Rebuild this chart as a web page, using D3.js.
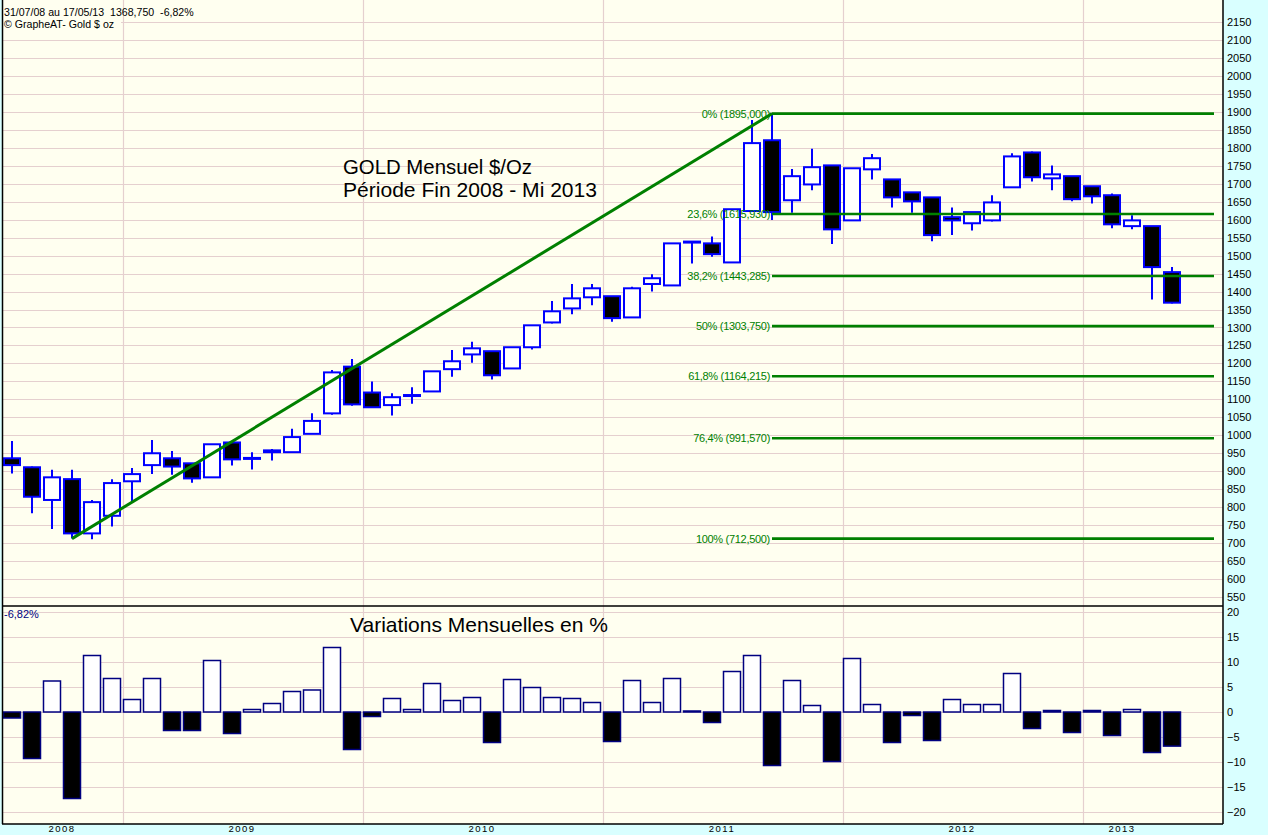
<!DOCTYPE html>
<html>
<head>
<meta charset="utf-8">
<script src="https://cdn.jsdelivr.net/npm/d3@7"></script>
<style>
html,body{margin:0;padding:0;background:#D9FFFF;}
svg{display:block;}
text{font-family:"Liberation Sans",Arial,sans-serif;}
</style>
</head>
<body>
<svg id="chart" width="1268" height="835"></svg>
<script>
// ---------- DATA ----------
const months = ["2008-07","2008-08","2008-09","2008-10","2008-11","2008-12",
"2009-01","2009-02","2009-03","2009-04","2009-05","2009-06","2009-07","2009-08","2009-09","2009-10","2009-11","2009-12",
"2010-01","2010-02","2010-03","2010-04","2010-05","2010-06","2010-07","2010-08","2010-09","2010-10","2010-11","2010-12",
"2011-01","2011-02","2011-03","2011-04","2011-05","2011-06","2011-07","2011-08","2011-09","2011-10","2011-11","2011-12",
"2012-01","2012-02","2012-03","2012-04","2012-05","2012-06","2012-07","2012-08","2012-09","2012-10","2012-11","2012-12",
"2013-01","2013-02","2013-03","2013-04","2013-05"];

const openP  = [936,911,820,878,727,776, 872,917,936,922,883,980,936,953,953,1004,1061,1191,
 1119,1084,1111,1122,1184,1225,1234,1186,1245,1314,1353,1384, 1387,1328,1421,1417,1537,1534,1481,1624,1821,1654,1698,1751,
 1598,1740,1712,1676,1662,1607,1590,1598,1690,1787,1715,1721, 1693,1668,1582,1582,1454];
const highP  = [984,913,904,904,820,878, 909,987,956,922,975,980,953,962,1018,1061,1182,1212,
 1150,1117,1134,1178,1237,1260,1234,1245,1306,1374,1421,1421, 1387,1413,1448,1534,1539,1553,1629,1877,1896,1741,1797,1751,
 1743,1783,1712,1676,1662,1634,1621,1668,1785,1790,1751,1721, 1693,1673,1612,1582,1468];
const lowP   = [894,783,739,713,711,746, 815,892,890,868,883,916,905,930,953,1004,1057,1082,
 1078,1055,1088,1122,1163,1202,1155,1186,1239,1311,1337,1362, 1316,1328,1400,1417,1478,1497,1481,1624,1599,1619,1682,1532,
 1598,1712,1634,1619,1540,1557,1570,1595,1690,1706,1682,1651, 1645,1576,1573,1378,1367];
const closeP = [917,829,883,727,814,867, 892,950,913,880,975,933,937,958,995,1040,1175,1086,
 1078,1106,1112,1178,1206,1242,1167,1245,1306,1345,1381,1409, 1326,1409,1437,1534,1539,1504,1629,1813,1621,1721,1746,1573,
 1743,1771,1662,1651,1557,1598,1621,1648,1776,1718,1726,1657, 1665,1587,1598,1468,1369];

const variations = [-1.2,-9.3,6.2,-17.3,11.3,6.7, 2.5,6.7,-3.7,-3.7,10.3,-4.3,0.5,1.7,4.1,4.4,12.9,-7.5,
 -0.9,2.7,0.5,5.7,2.3,2.9,-6.1,6.5,4.9,2.9,2.7,1.9, -5.9,6.3,1.9,6.7,0.2,-2.1,8.1,11.3,-10.7,6.3,1.3,-9.9,
 10.7,1.5,-6.1,-0.7,-5.7,2.5,1.5,1.5,7.7,-3.3,0.3,-4.1, 0.3,-4.7,0.5,-8.1,-6.82];

const priceTicks = [550,600,650,700,750,800,850,900,950,1000,1050,1100,1150,1200,1250,1300,1350,1400,1450,1500,
 1550,1600,1650,1700,1750,1800,1850,1900,1950,2000,2050,2100,2150];
const varTicks = [-20,-15,-10,-5,0,5,10,15,20];

const years = ["2008","2009","2010","2011","2012","2013"];
const yearLabelMonth = ["2008-09","2009-06","2010-06","2011-06","2012-06","2013-02"]; // label sits at the end of this month

const fibLevels = [1895.000,1615.930,1443.285,1303.750,1164.215,991.570,712.500];
const fibLabels = ["0% (1895,000)","23,6% (1615,930)","38,2% (1443,285)","50% (1303,750)","61,8% (1164,215)","76,4% (991,570)","100% (712,500)"];
const trendFrom = {month:"2008-10", value:712.5};
const trendTo   = {month:"2011-09", value:1895.0};
const fibStartMonth = "2011-09";

// ---------- LAYOUT ----------
const svg = d3.select("#chart");
const L = 2, R = 1223, T = 0, MID = 606, B = 824;
const BG = "#D9FFFF", PLOT = "#FFFFF0", GRID = "#E5D0CF";
const GREEN = "#008000";

const x = d3.scaleBand().domain(months).range([L, L + 20*months.length]).paddingInner(0);
const cx = m => x(m) + x.bandwidth()/2;
const y = d3.scaleLinear().domain([550,2150]).range([597,22]);
const yv = d3.scaleLinear().domain([-20,20]).range([812,612]);

svg.append("rect").attr("x",L).attr("y",T).attr("width",R-L).attr("height",B-T).attr("fill",PLOT);

// horizontal grids
svg.append("g").selectAll("line").data(priceTicks).join("line")
  .attr("x1",L).attr("x2",R).attr("y1",d=>Math.round(y(d))+0.5).attr("y2",d=>Math.round(y(d))+0.5)
  .attr("stroke",GRID).attr("stroke-width",1.2);
svg.append("g").selectAll("line").data(varTicks).join("line")
  .attr("x1",L).attr("x2",R).attr("y1",d=>Math.round(yv(d))+0.5).attr("y2",d=>Math.round(yv(d))+0.5)
  .attr("stroke",GRID).attr("stroke-width",1.2);

// vertical year separators (between Dec and Jan)
const yearStarts = months.filter((m,i)=> i>0 && m.endsWith("-01"));
svg.append("g").selectAll("line").data(yearStarts).join("line")
  .attr("x1",d=>Math.round(x(d))+1.5).attr("x2",d=>Math.round(x(d))+1.5)
  .attr("y1",T).attr("y2",B).attr("stroke",GRID).attr("stroke-width",1.2);

// header text
svg.append("rect").attr("x",L+1).attr("y",0).attr("width",118).attr("height",30).attr("fill",PLOT);
svg.append("text").attr("x",4).attr("y",16).attr("font-size",10.6).attr("fill","#000")
  .style("white-space","pre").text("31/07/08 au 17/05/13  1368,750  -6,82%");
svg.append("text").attr("x",4).attr("y",28).attr("font-size",10.6).attr("fill","#000")
  .text("© GrapheAT- Gold $ oz");

// Titles
svg.append("text").attr("x",343).attr("y",174).attr("font-size",20.5).attr("textLength",189).attr("lengthAdjust","spacingAndGlyphs").attr("fill","#000").text("GOLD Mensuel $/Oz");
svg.append("text").attr("x",343).attr("y",196.5).attr("font-size",20.5).attr("textLength",254).attr("lengthAdjust","spacingAndGlyphs").attr("fill","#000").text("Période Fin 2008 - Mi 2013");
svg.append("text").attr("x",350).attr("y",632).attr("font-size",21).attr("textLength",258).attr("lengthAdjust","spacingAndGlyphs").attr("fill","#000").text("Variations Mensuelles en %");
svg.append("text").attr("x",4).attr("y",618).attr("font-size",11).attr("fill","#000080").text("-6,82%");

// ---------- CANDLES ----------
const candles = months.map((m,i)=>({m, o:openP[i], h:highP[i], l:lowP[i], c:closeP[i]}));
const gC = svg.append("g");
gC.selectAll("line.wick").data(candles).join("line").attr("class","wick")
  .attr("x1",d=>cx(d.m)).attr("x2",d=>cx(d.m))
  .attr("y1",d=>y(d.h)).attr("y2",d=>y(d.l))
  .attr("stroke","#0000FF").attr("stroke-width",2);
gC.selectAll("rect.body").data(candles).join("rect").attr("class","body")
  .attr("x",d=>x(d.m)+2).attr("width",x.bandwidth()-4)
  .attr("y",d=>y(Math.max(d.o,d.c)))
  .attr("height",d=>Math.max(1, Math.abs(y(d.o)-y(d.c))))
  .attr("fill",d=> d.c>=d.o ? "#FFFFFF" : "#000000")
  .attr("stroke","#0000FF").attr("stroke-width",2);

// ---------- FIBONACCI ----------
svg.append("line")
  .attr("x1",cx(trendFrom.month)).attr("y1",y(trendFrom.value))
  .attr("x2",cx(trendTo.month)).attr("y2",y(trendTo.value))
  .attr("stroke",GREEN).attr("stroke-width",3);
const gF = svg.append("g");
gF.selectAll("line").data(fibLevels).join("line")
  .attr("x1",cx(fibStartMonth)).attr("x2",1214)
  .attr("y1",d=>y(d)).attr("y2",d=>y(d))
  .attr("stroke",GREEN).attr("stroke-width",2.6);
gF.selectAll("text").data(fibLevels).join("text")
  .attr("x",cx(fibStartMonth)-2).attr("y",d=>y(d)+4)
  .attr("text-anchor","end").attr("font-size",11).attr("letter-spacing",-0.3)
  .attr("fill",GREEN).text((d,i)=>fibLabels[i]);

// ---------- VARIATIONS ----------
svg.append("g").selectAll("rect").data(months.map((m,i)=>({m,v:variations[i]}))).join("rect")
  .attr("x",d=>x(d.m)+1.5).attr("width",x.bandwidth()-3)
  .attr("y",d=>yv(Math.max(0,d.v))).attr("height",d=>Math.max(1,Math.abs(yv(d.v)-yv(0))))
  .attr("fill",d=>d.v>=0?"#FFFFFF":"#000000")
  .attr("stroke","#000080").attr("stroke-width",1.5);

// ---------- FRAME ----------
svg.append("rect").attr("x",R+0.5).attr("y",0).attr("width",1268-R).attr("height",835).attr("fill",BG);
svg.append("rect").attr("x",0).attr("y",B).attr("width",1268).attr("height",835-B).attr("fill",BG);
svg.append("rect").attr("x",0).attr("y",0).attr("width",L).attr("height",835).attr("fill",BG);
const frame = svg.append("g").attr("stroke","#000").attr("stroke-width",1.5);
frame.append("line").attr("x1",L+0.5).attr("x2",L+0.5).attr("y1",0).attr("y2",B);
frame.append("line").attr("x1",R).attr("x2",R).attr("y1",0).attr("y2",B);
frame.append("line").attr("x1",L).attr("x2",R).attr("y1",B).attr("y2",B);
frame.append("line").attr("x1",L).attr("x2",R).attr("y1",MID).attr("y2",MID);

// ---------- AXES ----------
const axUp = d3.axisRight(y).tickValues(priceTicks).tickSize(0).tickPadding(4).tickFormat(d3.format("d"));
const gAU = svg.append("g").attr("transform",`translate(${R},0)`).call(axUp);
gAU.select(".domain").remove();
gAU.selectAll("text").attr("font-size",11).attr("font-family","Liberation Sans, Arial, sans-serif").attr("fill","#000");
const axLo = d3.axisRight(yv).tickValues(varTicks).tickSize(0).tickPadding(4).tickFormat(d3.format("d"));
const gAL = svg.append("g").attr("transform",`translate(${R},0)`).call(axLo);
gAL.select(".domain").remove();
gAL.selectAll("text").attr("font-size",11).attr("font-family","Liberation Sans, Arial, sans-serif").attr("fill","#000");

// year labels
svg.append("g").selectAll("text").data(years).join("text")
  .attr("x",(d,i)=>x(yearLabelMonth[i])+x.bandwidth())
  .attr("y",832).attr("text-anchor","middle").attr("font-size",9.5).attr("letter-spacing",1.5)
  .attr("fill","#000").text(d=>d);
</script>
</body>
</html>
